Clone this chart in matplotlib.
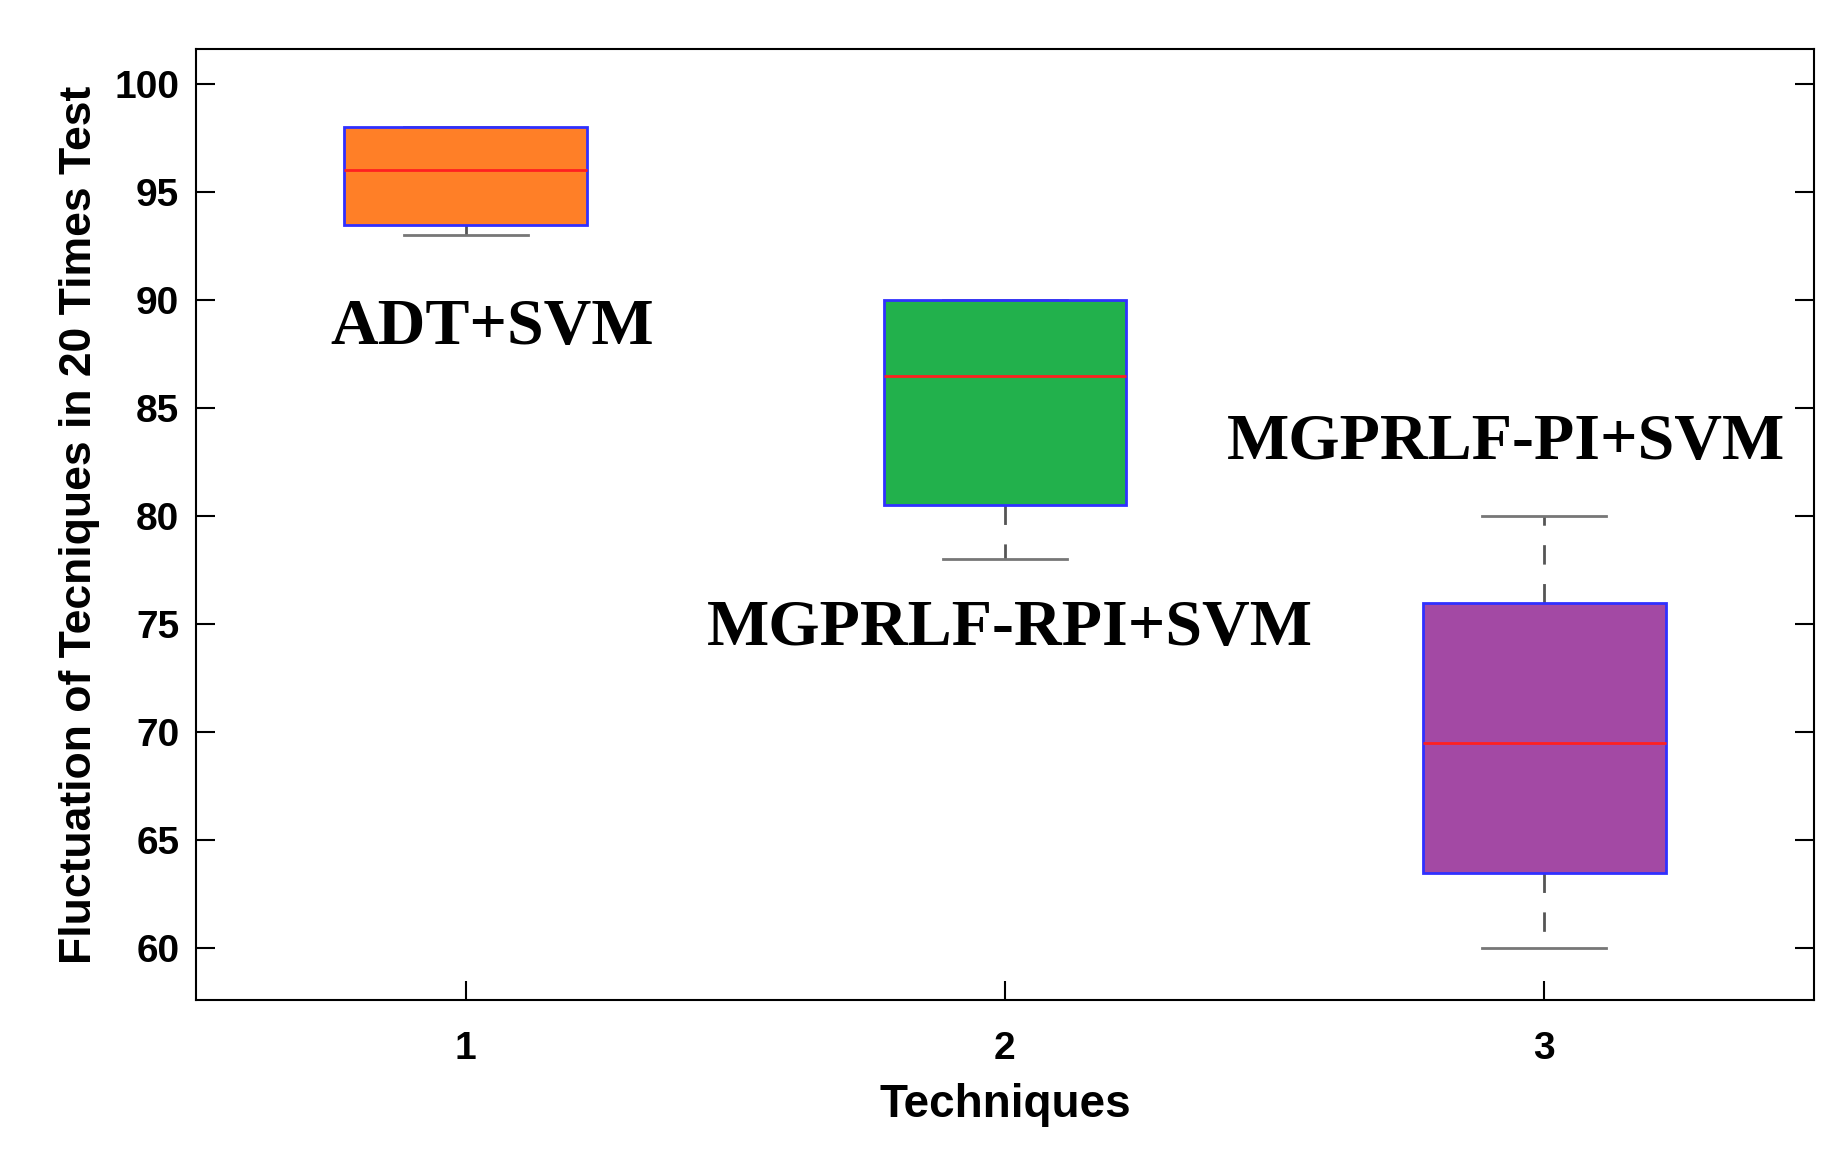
import numpy as np
import matplotlib
matplotlib.use('Agg')
import matplotlib.pyplot as plt

positions = [1, 2, 3]
names = ['ADT+SVM', 'MGPRLF-RPI+SVM', 'MGPRLF-PI+SVM']
medians = [96.0, 86.5, 69.5]
q1 = [93.5, 80.5, 63.5]
q3 = [98.0, 90.0, 76.0]
whislo = [93.0, 78.0, 60.0]
whishi = [98.0, 90.0, 80.0]
colors = ['#FF7F27', '#22B14C', '#A349A4']

# label anchor points (data coords)
label_x = [1.05, 2.01, 2.93]
label_y = [88.7, 74.8, 83.4]

plt.rcParams['font.family'] = ['Liberation Sans', 'DejaVu Sans']

fig = plt.figure(figsize=(18.49, 11.51), dpi=100)
ax = fig.add_axes([0.106, 0.131, 0.875, 0.826])

stats = [dict(med=m, q1=a, q3=b, whislo=lo, whishi=hi, fliers=[], label=str(p))
         for p, m, a, b, lo, hi in zip(positions, medians, q1, q3, whislo, whishi)]

bp = ax.bxp(stats, positions=positions, widths=0.45, patch_artist=True,
            boxprops=dict(edgecolor='#3030FF', linewidth=2),
            medianprops=dict(color='#FF2020', linewidth=2),
            whiskerprops=dict(color='#555555', linewidth=2, linestyle=(0, (7, 7))),
            capprops=dict(color='#777777', linewidth=2),
            capwidths=0.23)
for patch, c in zip(bp['boxes'], colors):
    patch.set_facecolor(c)
    patch.set_zorder(3)
for m in bp['medians']:
    m.set_zorder(4)

for x, y, t in zip(label_x, label_y, names):
    ax.text(x, y, t, ha='center', va='center', fontsize=47.5, fontweight='bold',
            family=['Liberation Serif', 'DejaVu Serif'])

ax.set_xlim(0.5, 3.5)
ax.set_ylim(57.6, 101.6)
ax.set_yticks(np.arange(60, 101, 5))
ax.set_xticks(positions)
ax.set_xticklabels(['1', '2', '3'])
ax.tick_params(direction='in', length=14, width=1.5, labelsize=28, right=True)
ax.tick_params(axis='x', pad=22)
ax.tick_params(axis='y', pad=12)
for lab in ax.get_xticklabels() + ax.get_yticklabels():
    lab.set_fontweight('bold')
for s in ax.spines.values():
    s.set_linewidth(1.5)

ax.set_xlabel('Techniques', fontsize=33, fontweight='bold', labelpad=12)
ax.set_ylabel('Fluctuation of Tecniques in 20 Times Test', fontsize=32, fontweight='bold', labelpad=10)

fig.savefig('out.png', dpi=100)
